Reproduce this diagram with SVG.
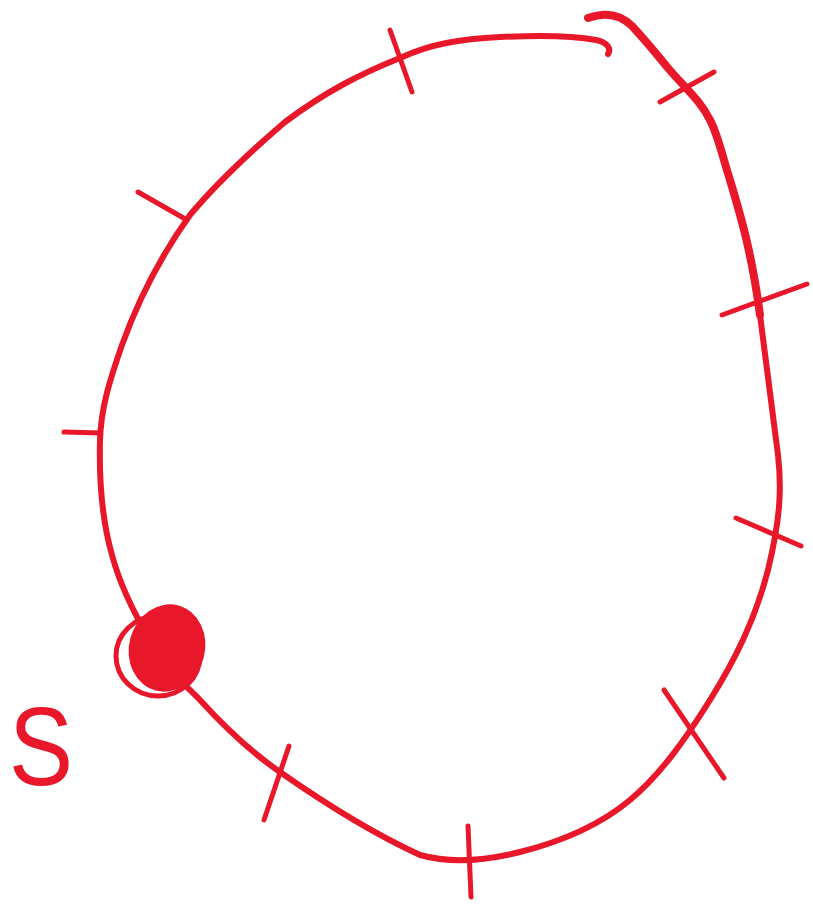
<svg xmlns="http://www.w3.org/2000/svg" width="813" height="904" viewBox="0 0 813 904">
<style>
.s{fill:none;stroke:#e8172a;stroke-width:6;stroke-linecap:round;stroke-linejoin:round}
.w{fill:none;stroke:#e8172a;stroke-width:8;stroke-linecap:round;stroke-linejoin:round}
.t{fill:none;stroke:#e8172a;stroke-width:5;stroke-linecap:round}
</style>
<rect width="813" height="904" fill="#fff"/>
<g id="connectors">
<path class="s" d="M608,54 C612,48 606,42 596,40 C575,36 540,35 500,37 C460,39 430,44 400,58 C360,74 325,92 285,122 C250,152 215,185 190,215 C165,250 140,295 122,345 C108,385 101,410 100,440 C99,480 102,520 112,555 C120,585 132,610 150,640 C165,668 180,680 200,700 C220,722 245,748 280,772 C320,800 370,832 420,855 C445,862 480,862 520,852 C560,842 600,825 630,800 C660,775 685,740 710,700 C735,660 755,620 768,570 C780,520 782,490 778,455 C772,410 766,360 760,315"/>
<path class="w" d="M760,315 C752,255 742,220 730,180 C722,155 718,135 710,120 C700,100 685,88 668,68 C655,52 645,40 632,26 C620,14 605,12 588,18"/>
<path class="t" d="M390,30 L412,92"/>
<path class="t" d="M660,102 L714,72"/>
<path class="t" d="M138,192 L187,220"/>
<path class="t" d="M722,315 L807,284"/>
<path class="t" d="M64,432 L100,433"/>
<path class="t" d="M736,518 L801,546"/>
<path class="t" d="M664,690 L724,778"/>
<path class="t" d="M289,746 L264,820"/>
<path class="t" d="M468,826 L471,897"/>
</g>
<g id="start">
<ellipse cx="167" cy="648" rx="38" ry="44" fill="#e8172a" transform="rotate(15 167 648)"/>
<ellipse cx="158" cy="656" rx="42" ry="40" fill="none" stroke="#e8172a" stroke-width="5"/>
</g>
<g id="label-s">
<text x="9" y="785" font-family="Liberation Sans, sans-serif" font-size="96" fill="#e8172a" transform="translate(9 785) scale(1 1.15) translate(-9 -785)">S</text>
</g>
</svg>
